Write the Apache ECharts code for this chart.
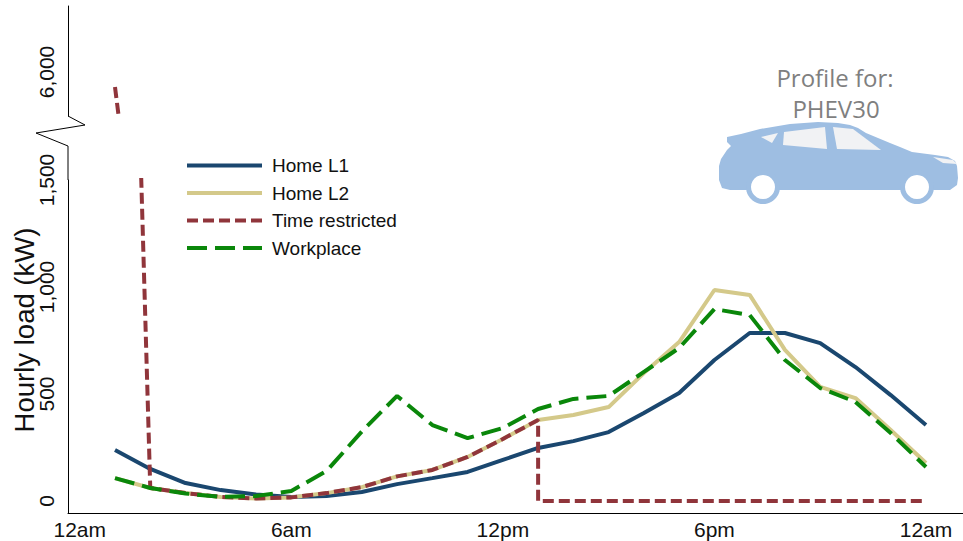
<!DOCTYPE html>
<html>
<head>
<meta charset="utf-8">
<script src="https://cdn.jsdelivr.net/npm/echarts@6/dist/echarts.min.js"></script>
<style>
  html, body { margin: 0; padding: 0; background: #fff; }
  #main { width: 963px; height: 541px; }
</style>
</head>
<body>
<div id="main"></div>
<script>
// hour of day, 1 = 1am ... 24 = midnight
const hours = [1,2,3,4,5,6,7,8,9,10,11,12,13,14,15,16,17,18,19,20,21,22,23,24];
const homeL1 = [238,150,84,51,30,19,23,42,79,107,136,192,248,280,322,411,505,659,785,785,738,626,495,355];
const homeL2 = [107,61,37,19,12,17,37,65,115,145,206,290,379,402,439,598,743,986,963,706,533,481,332,178];
const workplace = [107,61,35,19,23,47,140,325,491,355,294,341,430,477,491,603,715,897,869,659,528,463,318,159];
// time restricted drops straight to zero at 1pm, so hour 13 is listed twice
const trHours = [1,2,3,4,5,6,7,8,9,10,11,12,13,13,14,15,16,17,18,19,20,21,22,23,24];
const trLoad = [5700,61,37,19,12,17,37,65,115,145,206,290,379,0,0,0,0,0,0,0,0,0,0,0,0];

const xTicks = [0, 6, 12, 18, 24];
const xTickLabels = ['12am', '6am', '12pm', '6pm', '12am'];
const yTicksLow = [0, 500, 1000, 1500];
const yTicksHigh = [6000];

const FONT = '"Liberation Sans", Arial, sans-serif';
const colors = {
  l1: '#1a476f',
  l2: '#d4c98a',
  tr: '#90353b',
  wp: '#0a870a'
};

const gridLeft = 68;
const upTop = 6, upBottom = 116;     // upper panel (above the axis break)
const lowTop = 180, lowBottom = 513; // lower panel

function pairs(xs, ys) {
  return xs.map((x, i) => [x, ys[i]]);
}
const fmt = v => Number(v).toLocaleString('en-US');

function yAxisBase(grid, min, max, ticks) {
  return {
    type: 'value',
    gridIndex: grid,
    min: min,
    max: max,
    axisLine: { show: true, onZero: false, lineStyle: { color: '#000', width: 1 } },
    axisTick: { show: false },
    splitLine: { show: false },
    axisLabel: {
      customValues: ticks,
      rotate: 90,
      margin: 11,
      fontSize: 21,
      fontFamily: FONT,
      color: '#111',
      formatter: fmt
    }
  };
}

function lineSeries(name, data, color, dash, grid) {
  return {
    name: name,
    type: 'line',
    xAxisIndex: grid,
    yAxisIndex: grid,
    data: data,
    symbol: 'none',
    showSymbol: false,
    clip: true,
    lineStyle: { color: color, width: 4, type: dash || 'solid', cap: 'butt' },
    itemStyle: { color: color },
    emphasis: { disabled: true }
  };
}

const carBlue = '#9ebee2';
const glass = '#f1f2f4';

const chart = echarts.init(document.getElementById('main'), null, { renderer: 'svg' });

const option = {
  animation: false,
  backgroundColor: '#fff',
  grid: [
    { left: gridLeft, right: 0, top: upTop, height: upBottom - upTop },
    { left: gridLeft, right: 0, top: lowTop, height: lowBottom - lowTop }
  ],
  xAxis: [
    { type: 'value', gridIndex: 0, min: -0.333, max: 25.05, show: false },
    {
      type: 'value',
      gridIndex: 1,
      min: -0.333,
      max: 25.05,
      axisLine: { onZero: false, lineStyle: { color: '#000', width: 1 } },
      axisTick: { show: false },
      splitLine: { show: false },
      axisLabel: {
        customValues: xTicks,
        margin: 6,
        fontSize: 21,
        fontFamily: FONT,
        color: '#111',
        formatter: v => xTickLabels[xTicks.indexOf(v)]
      }
    }
  ],
  yAxis: [
    yAxisBase(0, 5120, 7320, yTicksHigh),
    yAxisBase(1, -56, 1500, yTicksLow)
  ],
  legend: {
    orient: 'vertical',
    left: 185,
    top: 156,
    padding: 0,
    itemWidth: 75,
    itemHeight: 14,
    itemGap: 8.5,
    data: ['Home L1', 'Home L2', 'Time restricted', 'Workplace'],
    itemStyle: { opacity: 0 },
    lineStyle: { width: 4 },
    textStyle: { fontSize: 19, fontFamily: FONT, color: '#111', lineHeight: 19, padding: [0, 0, 0, 5] }
  },
  series: [
    lineSeries('Home L1', pairs(hours, homeL1), colors.l1, 'solid', 1),
    lineSeries('Home L2', pairs(hours, homeL2), colors.l2, 'solid', 1),
    lineSeries('Time restricted', pairs(trHours, trLoad), colors.tr, [11, 5], 1),
    lineSeries('Time restricted', pairs(trHours, trLoad), colors.tr, [11, 5], 0),
    lineSeries('Workplace', pairs(hours, workplace), colors.wp, [20, 8], 1)
  ],
  graphic: [
    // axis break zigzag
    {
      type: 'polyline',
      shape: { points: [[gridLeft, upBottom], [85, 125], [36, 133], [gridLeft, 146], [gridLeft, lowTop]] },
      style: { stroke: '#000', lineWidth: 1, fill: null },
      silent: true
    },
    {
      type: 'text',
      x: 24,
      y: 330,
      rotation: Math.PI / 2,
      style: {
        text: 'Hourly load (kW)',
        fontSize: 27.5,
        fontFamily: FONT,
        fill: '#111',
        align: 'center',
        verticalAlign: 'middle'
      }
    },
    // car picture
    {
      type: 'polygon',
      shape: {
        points: [[727,137],[741,134],[760,129],[790,124],[818,122],[838,123],[850,125],[858,128],[866,133],
          [890,143],[900,147],[912,152],[935,155],[948,157],[955,161],[957,166],[958,178],[957,185],[950,190],
          [730,190],[722,188],[719,180],[719,166],[721,159],[727,150],[731,146],[727,142]]
      },
      style: { fill: carBlue },
      silent: true
    },
    { type: 'polygon', shape: { points: [[761,137],[778,133],[772,143]] }, style: { fill: glass }, silent: true },
    { type: 'polygon', shape: { points: [[784,132],[825,127],[827,149],[783,145]] }, style: { fill: glass }, silent: true },
    { type: 'polygon', shape: { points: [[833,127],[853,129],[881,150],[837,149]] }, style: { fill: glass }, silent: true },
    { type: 'polygon', shape: { points: [[933,157],[953,160],[957,164],[943,163]] }, style: { fill: glass }, silent: true },
    { type: 'circle', shape: { cx: 763, cy: 187, r: 17 }, style: { fill: carBlue }, silent: true },
    { type: 'circle', shape: { cx: 763, cy: 187, r: 12 }, style: { fill: '#fff' }, silent: true },
    { type: 'circle', shape: { cx: 917, cy: 187, r: 17 }, style: { fill: carBlue }, silent: true },
    { type: 'circle', shape: { cx: 917, cy: 187, r: 12 }, style: { fill: '#fff' }, silent: true },
    {
      type: 'text',
      x: 835,
      y: 77,
      style: { text: 'Profile for:', fontSize: 24, fontFamily: '"Open Sans", sans-serif', fill: '#7f7f7f', align: 'center', verticalAlign: 'middle' }
    },
    {
      type: 'text',
      x: 836,
      y: 108,
      style: { text: 'PHEV30', fontSize: 24, fontFamily: '"Open Sans", sans-serif', fill: '#7f7f7f', align: 'center', verticalAlign: 'middle' }
    }
  ]
};

chart.setOption(option);
</script>
</body>
</html>
